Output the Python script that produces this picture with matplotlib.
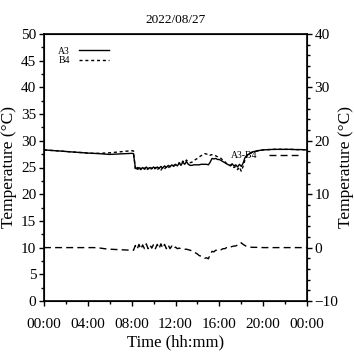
import numpy as np
import matplotlib
matplotlib.use("Agg")
import matplotlib.pyplot as plt
from matplotlib.ticker import MultipleLocator

plt.rcParams['font.family'] = ['Liberation Serif', 'DejaVu Serif']

# sample times in hours: 30 min before 8:00, 10 min 8:10-18:30, 30 min after
t_hours = np.concatenate([np.arange(0, 8.01, 0.5),
                          np.arange(49, 111.5) / 6.0,
                          np.arange(19, 24.01, 0.5)])

a3 = [28.3, 28.22, 28.15, 28.08, 28.0, 27.92, 27.85, 27.78, 27.7, 27.65, 27.6,
      27.52, 27.45, 27.5, 27.55, 27.6, 27.65,
      27.6, 25.0, 24.7, 25.0, 24.6, 25.0, 24.7, 25.1, 24.7, 25.0, 24.8, 25.1,
      24.8, 25.1, 24.8, 25.2, 24.9, 25.3, 25.0, 25.4, 25.1, 25.5, 25.2, 25.6,
      25.3, 25.8, 25.4, 26.0, 25.6, 26.1, 25.6, 25.4, 25.4, 25.5, 25.5, 25.5,
      25.5, 25.6, 25.6, 25.6, 25.6, 25.5, 26.0, 26.7, 26.6, 26.7, 26.5, 26.5,
      26.3, 26.1, 25.9, 25.7, 25.5, 25.4, 25.7, 25.3, 25.5, 25.1, 25.6, 25.2,
      25.8, 26.8, 27.3,
      27.9, 28.15, 28.3, 28.35, 28.4, 28.4, 28.4, 28.4, 28.35, 28.35, 28.3]

b4 = [28.3, 28.22, 28.15, 28.08, 28.0, 27.92, 27.85, 27.78, 27.7, 27.65, 27.65,
      27.7, 27.75, 27.85, 27.95, 28.05, 28.15,
      28.1, 24.6, 25.0, 24.4, 24.9, 24.5, 24.9, 24.4, 24.9, 24.5, 24.9, 24.5,
      25.0, 24.5, 25.0, 24.5, 25.0, 24.7, 25.2, 24.9, 25.3, 25.2, 25.4, 25.5,
      25.5, 25.9, 25.6, 26.2, 25.9, 26.4, 26.0, 25.9, 26.0, 26.3, 26.5, 26.7,
      27.0, 27.2, 27.4, 27.6, 27.5, 27.6, 27.3, 27.4, 27.4, 27.2, 27.0, 26.8,
      26.7, 26.3, 26.1, 25.7, 25.6, 25.3, 25.5, 25.0, 25.2, 24.6, 25.1, 24.3,
      25.2, 26.4, 27.1,
      27.85, 28.1, 28.3, 28.35, 28.4, 28.4, 28.4, 28.4, 28.35, 28.35, 28.3]

diff = [0, 0, 0, 0, 0, 0, 0, 0, 0, 0, -0.05, -0.2, -0.3, -0.35, -0.4, -0.45, -0.5,
        -0.5, 0.4, -0.3, 0.6, -0.3, 0.5, -0.2, 0.7, -0.2, 0.5, -0.1, 0.6,
        -0.2, 0.6, -0.2, 0.7, -0.1, 0.6, -0.2, 0.5, -0.2, 0.3, -0.2, 0.1,
        -0.2, -0.1, -0.2, -0.2, -0.3, -0.3, -0.4, -0.5, -0.6, -0.8, -1.0, -1.2,
        -1.5, -1.6, -1.8, -2.0, -1.9, -2.1, -1.3, -0.7, -0.8, -0.5, -0.5, -0.3,
        -0.4, -0.2, -0.2, 0.0, -0.1, 0.1, 0.2, 0.3, 0.3, 0.5, 0.5, 0.9,
        0.6, 0.4, 0.2,
        0.05, 0.05, 0, 0, 0, 0, 0, 0, 0, 0, 0]

x_ticks = [0, 4, 8, 12, 16, 20, 24]
x_labels = ["00:00", "04:00", "08:00", "12:00", "16:00", "20:00", "00:00"]

fig = plt.figure(figsize=(3.54, 3.54), dpi=100)
ax = fig.add_axes([44 / 354, 53 / 354, 263 / 354, 267 / 354])

ax.plot(t_hours, a3, color='black', lw=1.0, label='A3')
ax.plot(t_hours, b4, color='black', lw=1.0, ls=(0, (2.2, 2)), label='B4')
ax.set_xlim(0, 24)
ax.set_ylim(0, 50)
ax.xaxis.set_minor_locator(MultipleLocator(2))
ax.set_xticks(x_ticks)
ax.set_xticklabels(x_labels)
ax.yaxis.set_major_locator(MultipleLocator(5))
ax.yaxis.set_minor_locator(MultipleLocator(2.5))
ax.tick_params(which='major', length=3.5, width=1, labelsize=11, pad=2)
ax.tick_params(axis='x', which='major', pad=9)
ax.tick_params(which='minor', length=2, width=1)
ax.set_xlabel('Time (hh:mm)', fontsize=12, labelpad=2)
ax.set_ylabel('Temperature (°C)', fontsize=12.5)
ax.yaxis.set_label_coords(-0.102, 0.5)
ax.set_title('2022/08/27', fontsize=9.5, pad=8)
for s in ax.spines.values():
    s.set_linewidth(1.2)
ax.legend(loc='upper left', bbox_to_anchor=(0.02, 0.985), frameon=False,
          fontsize=7, handlelength=3, labelspacing=0.05, handletextpad=1.0,
          markerfirst=False)

ax2 = ax.twinx()
ax2.plot(t_hours, diff, color='black', lw=1.0, ls=(0, (5, 3)), label='A3-B4')
ax2.set_ylim(-10, 40)
ax2.yaxis.set_major_locator(MultipleLocator(10))
ax2.yaxis.set_minor_locator(MultipleLocator(2))
ax2.tick_params(which='major', length=3.5, width=1, labelsize=11, pad=2)
ax2.tick_params(which='minor', length=2, width=1)
ax2.set_ylabel('Temperature (°C)', fontsize=12.5)
ax2.yaxis.set_label_coords(1.118, 0.5)
ax2.legend(loc='center right', bbox_to_anchor=(1.0, 0.545), frameon=False,
           fontsize=7, handlelength=3, handletextpad=1.2, markerfirst=False)

fig.savefig('out.png', dpi=100)
